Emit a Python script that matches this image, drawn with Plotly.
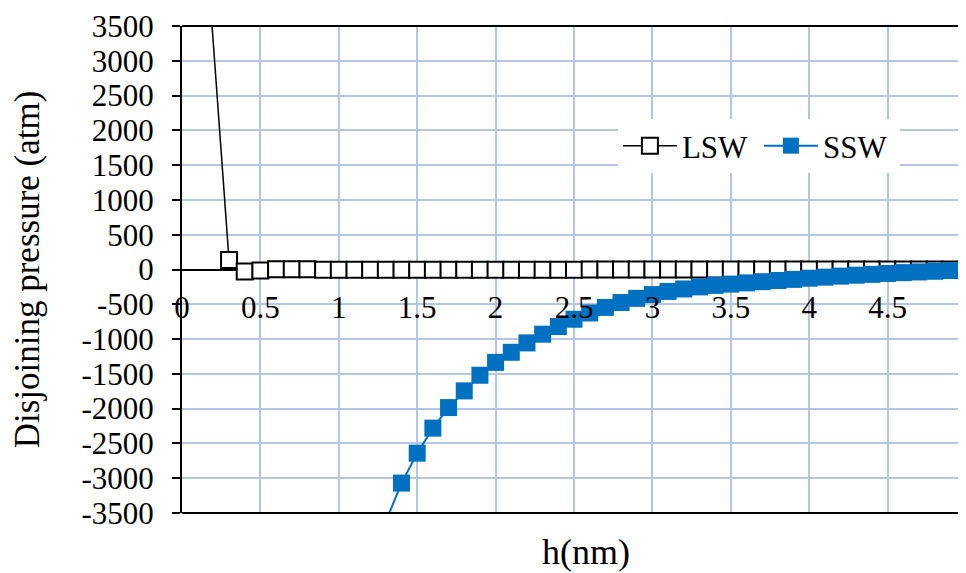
import plotly.graph_objects as go

# ---- data ----
lsw_h = [0.1, 0.3, 0.4, 0.5, 0.6, 0.7, 0.8, 0.9, 1.0,
         1.1, 1.2, 1.3, 1.4, 1.5, 1.6, 1.7, 1.8, 1.9, 2.0,
         2.1, 2.2, 2.3, 2.4, 2.5, 2.6, 2.7, 2.8, 2.9, 3.0,
         3.1, 3.2, 3.3, 3.4, 3.5, 3.6, 3.7, 3.8, 3.9, 4.0,
         4.1, 4.2, 4.3, 4.4, 4.5, 4.6, 4.7, 4.8, 4.9, 5.0]
lsw_p = [6350, 135, -30, -15, 5, 5, 3, -5, -5,
         -5, -5, -4, -4, -4, -3, -3, -3, -3, -2,
         -2, -2, -2, -2, -2, -1, -1, -1, -1, -1,
         -1, -1, -1, -1, 0, 0, 0, 0, 0, 0,
         0, 0, 0, 0, 0, 0, 0, 0, 0, 0]

ssw_h = [1.3, 1.4, 1.5, 1.6, 1.7, 1.8, 1.9, 2.0,
         2.1, 2.2, 2.3, 2.4, 2.5, 2.6, 2.7, 2.8, 2.9, 3.0,
         3.1, 3.2, 3.3, 3.4, 3.5, 3.6, 3.7, 3.8, 3.9, 4.0,
         4.1, 4.2, 4.3, 4.4, 4.5, 4.6, 4.7, 4.8, 4.9, 5.0]
ssw_p = [-3620, -3070, -2640, -2280, -1985, -1745, -1520, -1335,
         -1190, -1055, -930, -820, -715, -625, -545, -475, -415, -360,
         -315, -280, -250, -228, -210, -192, -175, -158, -142, -125,
         -110, -95, -82, -70, -57, -45, -35, -25, -15, -5]

x_ticks = [0, 0.5, 1, 1.5, 2, 2.5, 3, 3.5, 4, 4.5, 5]
x_ticklabels = ["0", "0.5", "1", "1.5", "2", "2.5", "3", "3.5", "4", "4.5", "5"]
y_ticks = [-3500, -3000, -2500, -2000, -1500, -1000, -500, 0,
           500, 1000, 1500, 2000, 2500, 3000, 3500]
y_ticklabels = ["-3500", "-3000", "-2500", "-2000", "-1500", "-1000", "-500", "0",
                "500", "1000", "1500", "2000", "2500", "3000", "3500"]

FONT = "Liberation Serif"
GRID = "#B4C6E7"
BLUE = "#0070C0"

fig = go.Figure()
fig.add_trace(go.Scatter(
    x=lsw_h, y=lsw_p, name="LSW", mode="lines+markers",
    line=dict(color="black", width=1.5),
    marker=dict(symbol="square", size=16, color="white",
                line=dict(color="black", width=2)),
))
fig.add_trace(go.Scatter(
    x=ssw_h, y=ssw_p, name="SSW", mode="lines+markers",
    line=dict(color=BLUE, width=2),
    marker=dict(symbol="square", size=17, color=BLUE,
                line=dict(color=BLUE, width=0)),
))

# the page body has an 8px margin, so the figure is sized/offset to fill the window
fig.update_layout(
    width=958, height=565,
    margin=dict(l=174, r=0, t=18, b=60, autoexpand=False),
    paper_bgcolor="white", plot_bgcolor="white",
    font=dict(family=FONT, size=31, color="black"),
    showlegend=True,
    legend=dict(
        orientation="h", x=0.556, y=0.809, xanchor="left", yanchor="top",
        bgcolor="white", borderwidth=0,
        font=dict(family=FONT, size=31, color="black"),
        itemwidth=54, entrywidth=72, tracegroupgap=0,
    ),
    xaxis=dict(
        range=[0, 5], tickmode="array", tickvals=x_ticks, ticktext=x_ticklabels,
        anchor="free", position=0.5, showline=False, ticks="",
        ticklabelstandoff=16, automargin=False,
        showgrid=True, gridcolor=GRID, gridwidth=1.5, zeroline=False,
        tickfont=dict(family=FONT, size=31, color="black"),
    ),
    yaxis=dict(
        range=[-3500, 3500], tickmode="array", tickvals=y_ticks,
        ticktext=y_ticklabels,
        showline=True, linecolor="black", linewidth=2,
        ticks="outside", ticklen=8, tickwidth=1.5, tickcolor="black",
        ticklabelstandoff=12, automargin=False,
        showgrid=True, gridcolor=GRID, gridwidth=1.5,
        zeroline=True, zerolinecolor="black", zerolinewidth=1.5,
        tickfont=dict(family=FONT, size=31, color="black"),
        title=dict(text="Disjoining pressure (atm)", standoff=38,
                   font=dict(family=FONT, size=35, color="black")),
    ),
    shapes=[
        dict(type="line", xref="paper", yref="paper", x0=0, x1=1, y0=1, y1=1,
             line=dict(color="black", width=2), layer="above"),
        dict(type="line", xref="paper", yref="paper", x0=0, x1=1, y0=0, y1=0,
             line=dict(color="black", width=2), layer="above"),
    ],
    annotations=[
        dict(text="h(nm)", xref="paper", yref="paper", x=0.515, y=-0.08,
             xanchor="center", yanchor="middle", showarrow=False,
             font=dict(family=FONT, size=36, color="black")),
        # last x tick label, which sits on the (cropped) right edge
        dict(text=x_ticklabels[-1], xref="paper", yref="y", x=1, y=0,
             xanchor="center", yanchor="middle", yshift=-38, showarrow=False,
             font=dict(family=FONT, size=31, color="black")),
    ],
)

fig.write_html("out.html")
